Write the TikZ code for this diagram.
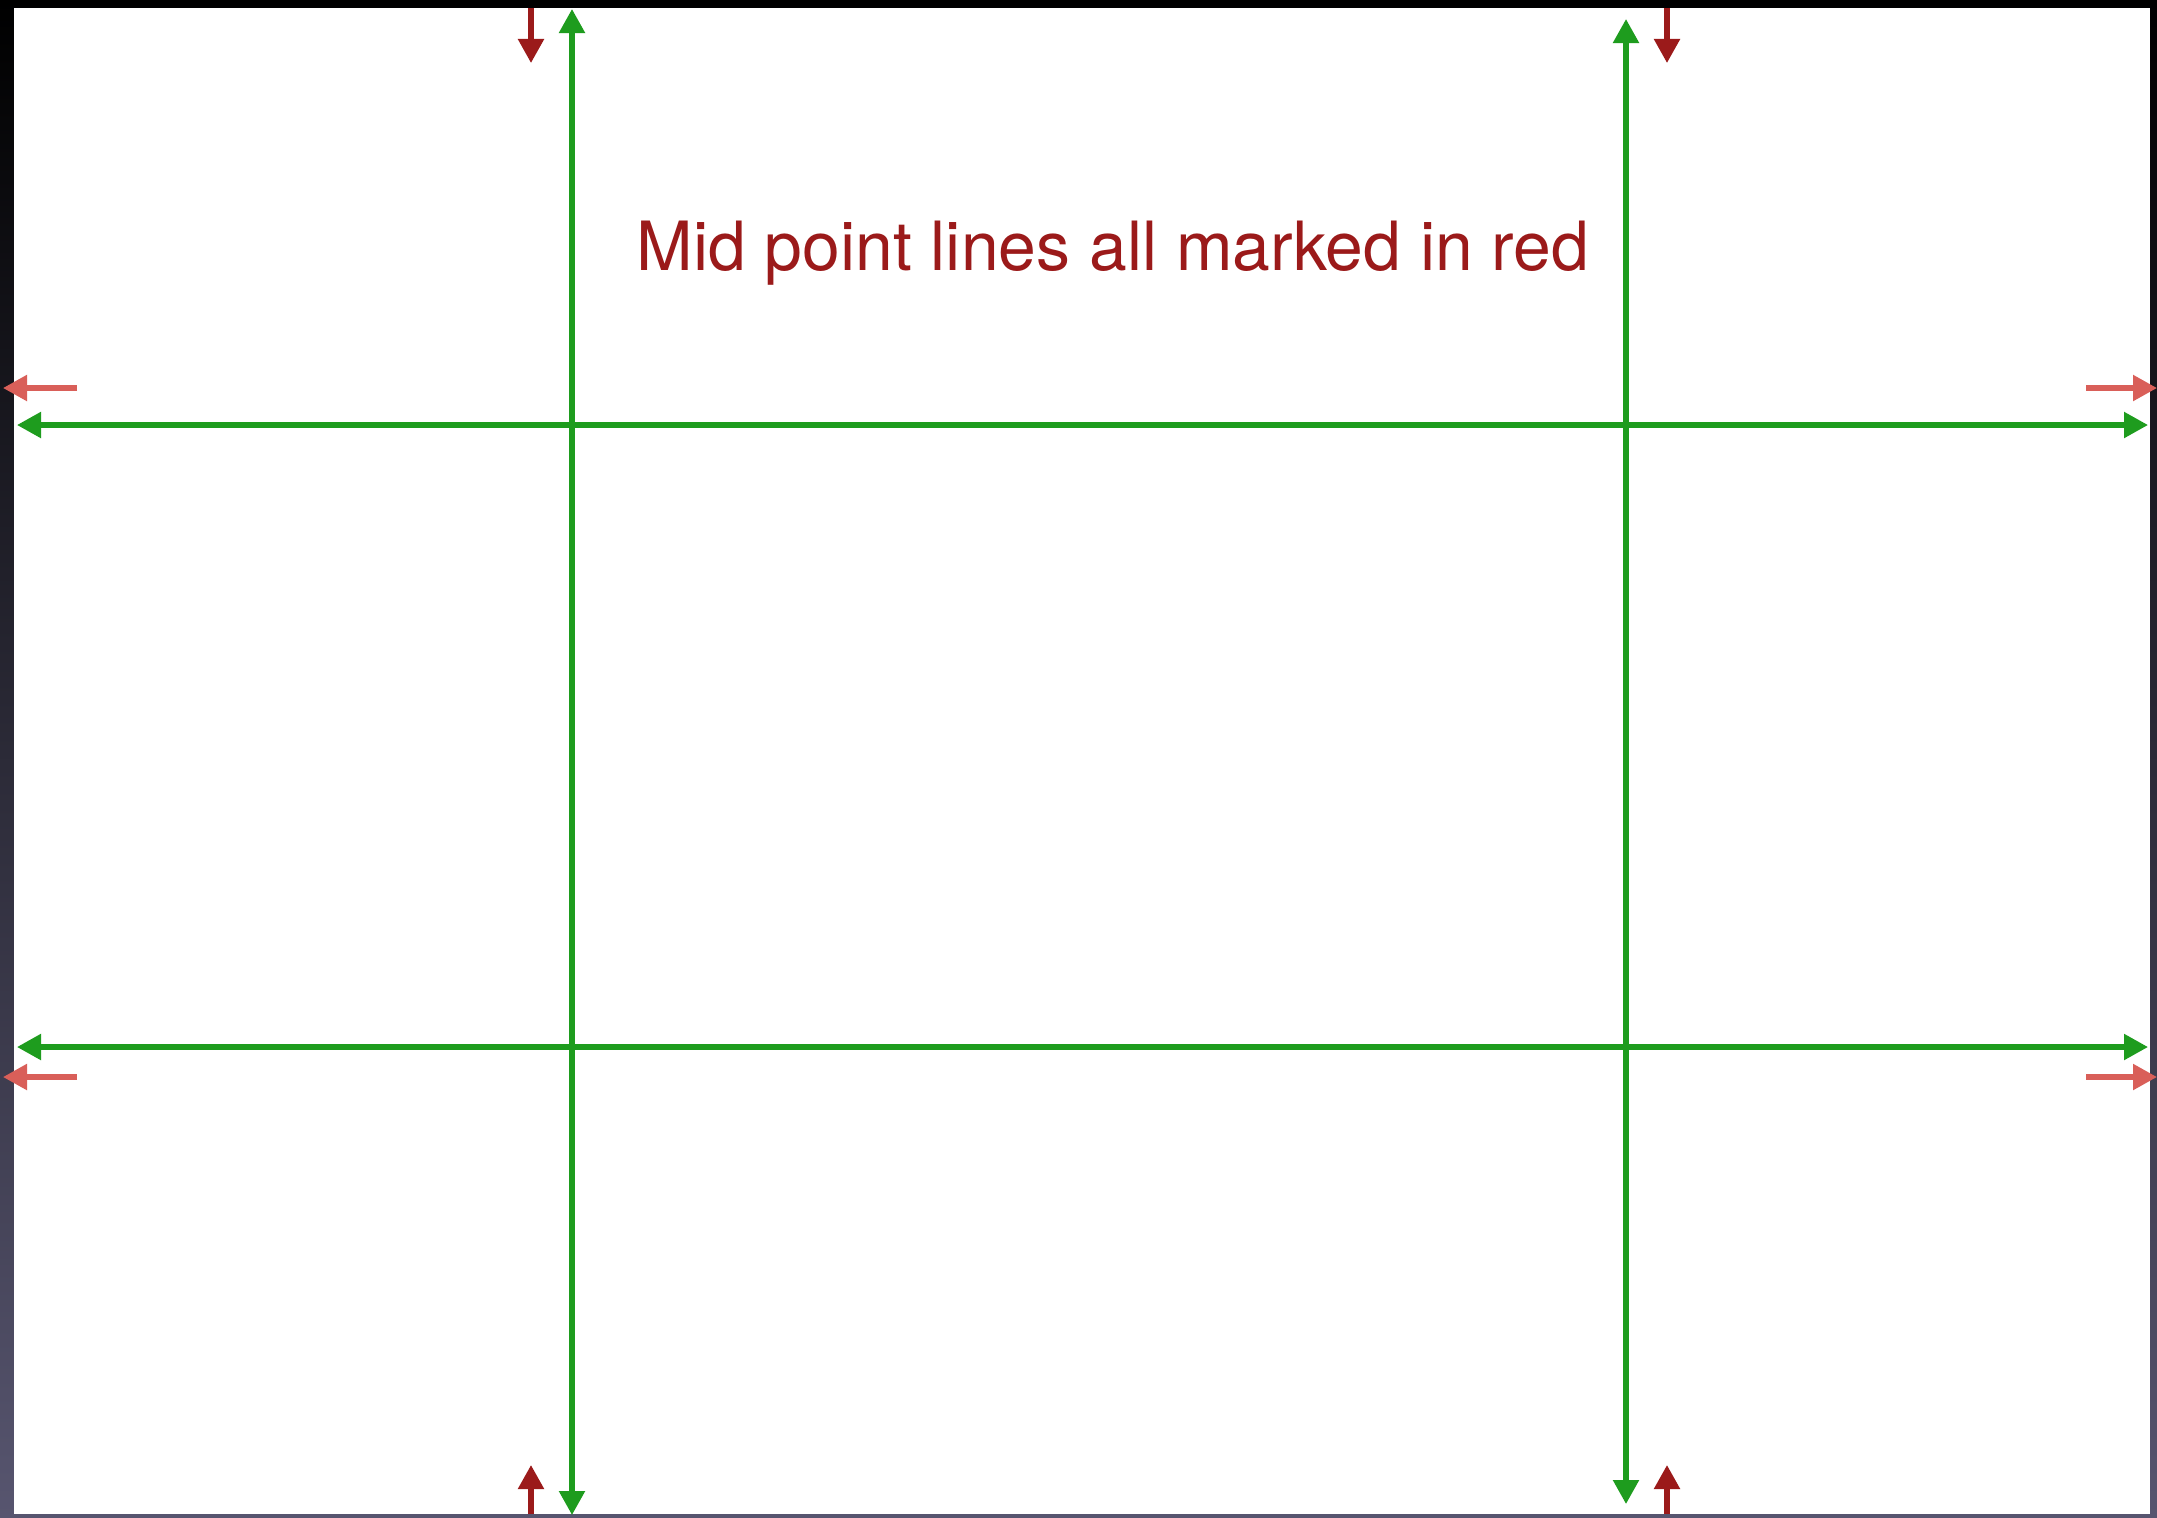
\documentclass[tikz,border=0pt]{standalone}
\usepackage{fontspec}
\setmainfont{TeX Gyre Heros}
\usetikzlibrary{arrows.meta}
\definecolor{MarkRed}{HTML}{9B1A1A}
\definecolor{LineGreen}{HTML}{1E9C1E}
\definecolor{EdgePink}{HTML}{D95F59}
\definecolor{BackMid}{HTML}{0B0A1C}
\definecolor{BackBottom}{HTML}{57556F}

\begin{document}
\begin{tikzpicture}[x=0.01cm,y=-0.01cm,
    gl/.style={{Triangle[length=2.4mm,width=2.5mm]}-{Triangle[length=2.4mm,width=2.5mm]},LineGreen,line width=1.5pt},
    rm/.style={-{Triangle[length=2.4mm,width=2.5mm]},MarkRed,line width=1.5pt},
    pm/.style={-{Triangle[length=2.4mm,width=2.5mm]},EdgePink,line width=1.5pt}]
  \useasboundingbox (0,0) rectangle (2157,1517);
  % slide on dark backdrop
  \shade[top color=black,middle color=BackMid,bottom color=BackBottom] (0,0) rectangle (2157,1517);
  \fill[white] (14,8) rectangle (2150,1514);
  \node[anchor=base west,inner sep=0pt,text=MarkRed,font=\fontsize{19.3}{23}\selectfont]
    (title) at (636,270) {Mid point lines all marked in red};
  % green guide lines
  \coordinate (v1t) at (572,9);    \coordinate (v1b) at (572,1515);
  \coordinate (v2t) at (1626,19);  \coordinate (v2b) at (1626,1504);
  \coordinate (h1l) at (17,425);   \coordinate (h1r) at (2148,425);
  \coordinate (h2l) at (17,1047);  \coordinate (h2r) at (2148,1047);
  \draw[gl](v1t)--(v1b); \draw[gl](v2t)--(v2b);
  \draw[gl](h1l)--(h1r); \draw[gl](h2l)--(h2r);
  % red mid point marks
  \coordinate (t1a) at (531,8);    \coordinate (t1b) at (531,63);
  \coordinate (t2a) at (1667,8);   \coordinate (t2b) at (1667,63);
  \coordinate (b1a) at (531,1514); \coordinate (b1b) at (531,1465);
  \coordinate (b2a) at (1667,1514);\coordinate (b2b) at (1667,1465);
  \draw[rm](t1a)--(t1b); \draw[rm](t2a)--(t2b);
  \draw[rm](b1a)--(b1b); \draw[rm](b2a)--(b2b);
  % side marks
  \coordinate (l1a) at (77,388);   \coordinate (l1b) at (3,388);
  \coordinate (l2a) at (77,1077);  \coordinate (l2b) at (3,1077);
  \coordinate (r1a) at (2086,388); \coordinate (r1b) at (2157,388);
  \coordinate (r2a) at (2086,1077);\coordinate (r2b) at (2157,1077);
  \draw[pm](l1a)--(l1b); \draw[pm](l2a)--(l2b);
  \draw[pm](r1a)--(r1b); \draw[pm](r2a)--(r2b);
\end{tikzpicture}
\end{document}
